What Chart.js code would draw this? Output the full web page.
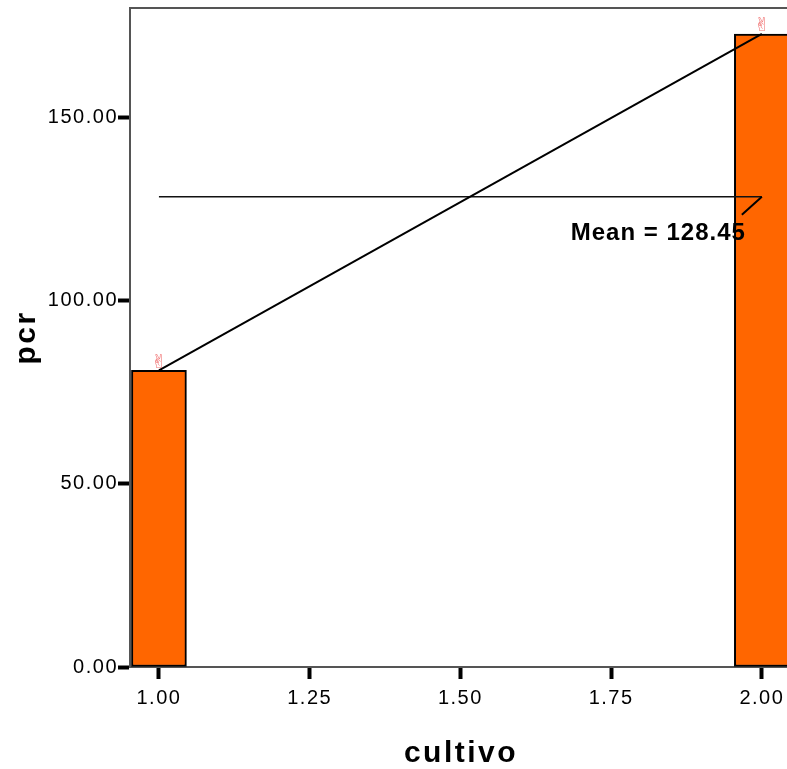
<!DOCTYPE html>
<html>
<head>
<meta charset="utf-8">
<script src="https://cdn.jsdelivr.net/npm/chart.js@4.4.1/dist/chart.umd.min.js"></script>
<style>
  html, body { margin: 0; padding: 0; background: #fff; overflow: hidden; }
  #wrap { width: 800px; height: 769px; }
</style>
</head>
<body>
<div id="wrap"><canvas id="chart" width="800" height="769"></canvas></div>
<script>
// values
const cultivo = [1.00, 2.00];
const pcr = [81.0, 172.9];
const meanPcr = 128.45;
const xTitle = 'cultivo';
const yTitle = 'pcr';
const meanLabel = 'Mean = ' + meanPcr.toFixed(2);

const barPoints = cultivo.map((c, i) => ({ x: c, y: pcr[i] }));
const meanPoints = [
  { x: cultivo[0], y: meanPcr },
  { x: cultivo[cultivo.length - 1], y: meanPcr }
];

// extra drawing: top frame, pink markers, mean label, axis titles
const decorations = {
  id: 'decorations',
  beforeDraw(chart) {
    // tick labels are drawn with a little tracking
    chart.ctx.letterSpacing = '1.5px';
  },
  afterDraw(chart) {
    const { ctx, chartArea, scales } = chart;
    const x = scales.x, y = scales.y;
    ctx.save();

    // top frame line
    ctx.strokeStyle = '#555';
    ctx.lineWidth = 2;
    ctx.beginPath();
    ctx.moveTo(chartArea.left - 1, chartArea.top);
    ctx.lineTo(chartArea.right, chartArea.top);
    ctx.stroke();

    // small pink markers over the bars
    ctx.letterSpacing = '0px';
    ctx.fillStyle = '#f07070';
    ctx.font = '19px "DejaVu Sans"';
    ctx.textAlign = 'center';
    ctx.textBaseline = 'bottom';
    barPoints.forEach(p => {
      ctx.fillText('\u270C', x.getPixelForValue(p.x), y.getPixelForValue(p.y) + 2);
    });

    // leader line and mean label
    const mx = x.getPixelForValue(cultivo[cultivo.length - 1]);
    const my = y.getPixelForValue(meanPcr);
    ctx.strokeStyle = '#000';
    ctx.lineWidth = 2;
    ctx.beginPath();
    ctx.moveTo(mx, my);
    ctx.lineTo(mx - 20, my + 18);
    ctx.stroke();

    ctx.fillStyle = '#000';
    ctx.letterSpacing = '1px';
    ctx.font = 'bold 24px "Liberation Sans", Arial, sans-serif';
    ctx.textAlign = 'right';
    ctx.textBaseline = 'alphabetic';
    ctx.fillText(meanLabel, mx - 16, my + 43);

    // axis titles
    ctx.letterSpacing = '2.5px';
    ctx.font = 'bold 30px "Liberation Sans", Arial, sans-serif';
    ctx.textAlign = 'center';
    ctx.fillText(xTitle, (chartArea.left + chartArea.right) / 2, 762);
    ctx.translate(35, (chartArea.top + chartArea.bottom) / 2);
    ctx.rotate(-Math.PI / 2);
    ctx.fillText(yTitle, 0, 0);

    ctx.restore();
  }
};

new Chart(document.getElementById('chart'), {
  type: 'bar',
  data: {
    datasets: [
      {
        type: 'line',
        data: barPoints,
        borderColor: '#000',
        borderWidth: 2,
        pointRadius: 0,
        tension: 0,
        order: 1
      },
      {
        type: 'line',
        data: meanPoints,
        borderColor: '#111',
        borderWidth: 1.5,
        pointRadius: 0,
        order: 2
      },
      {
        type: 'bar',
        data: barPoints,
        backgroundColor: '#ff6600',
        borderColor: '#000',
        borderWidth: 2,
        borderSkipped: false,
        barThickness: 55,
        order: 3
      }
    ]
  },
  options: {
    responsive: false,
    animation: false,
    layout: { padding: { top: 8, right: 8, left: 0, bottom: 0 } },
    plugins: {
      legend: { display: false },
      tooltip: { enabled: false }
    },
    scales: {
      x: {
        type: 'linear',
        min: 0.952,
        max: 2.05,
        offset: false,
        afterFit: s => { s.height = 102; s.paddingLeft = 0; s.paddingRight = 0; },
        grid: {
          offset: false,
          drawOnChartArea: false,
          drawTicks: true,
          tickLength: 12,
          tickWidth: 4,
          tickColor: '#000'
        },
        border: { color: '#555', width: 2 },
        ticks: {
          stepSize: 0.25,
          includeBounds: false,
          padding: 7,
          color: '#000',
          font: { family: '"Liberation Sans", Arial, sans-serif', size: 20 },
          callback: v => Number(v).toFixed(2)
        }
      },
      y: {
        min: 0,
        max: 180,
        afterFit: s => { s.width = 130; s.paddingTop = 0; s.paddingBottom = 0; },
        grid: {
          drawOnChartArea: false,
          drawTicks: true,
          tickLength: 12,
          tickWidth: 4,
          tickColor: '#000'
        },
        border: { color: '#555', width: 2 },
        ticks: {
          stepSize: 50,
          includeBounds: false,
          padding: 0,
          color: '#000',
          font: { family: '"Liberation Sans", Arial, sans-serif', size: 20 },
          callback: v => Number(v).toFixed(2)
        }
      }
    }
  },
  plugins: [decorations]
});
</script>
</body>
</html>
